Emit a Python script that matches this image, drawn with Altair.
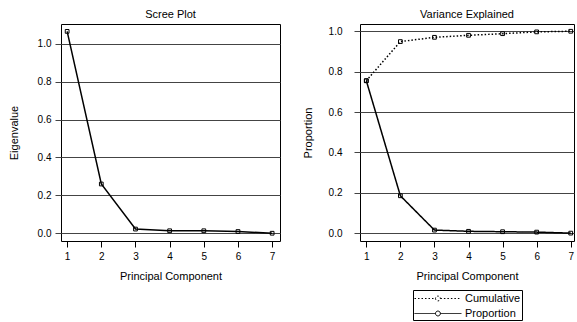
import altair as alt
import pandas as pd

FONT = "Liberation Sans"

components = [1, 2, 3, 4, 5, 6, 7]
eigenvalues = [1.066, 0.26, 0.022, 0.013, 0.013, 0.009, 0.0]
proportion = [0.755, 0.185, 0.015, 0.009, 0.007, 0.005, 0.0]
cumulative = [0.755, 0.949, 0.970, 0.980, 0.988, 0.997, 1.0]
y_ticks = [0.0, 0.2, 0.4, 0.6, 0.8, 1.0]

scree_df = pd.DataFrame({"Component": components, "Eigenvalue": eigenvalues})
ve_df = pd.DataFrame({
    "Component": components + components,
    "Value": proportion + cumulative,
    "Series": ["Proportion"] * 7 + ["Cumulative"] * 7,
})


def x_enc(dom):
    return alt.X(
        "Component:Q",
        scale=alt.Scale(domain=dom, nice=False, zero=False),
        axis=alt.Axis(values=components, title="Principal Component", grid=False,
                      tickSize=6, tickColor="black", labelPadding=4, titlePadding=9,
                      domain=False, labelFontSize=10, titleFontSize=11,
                      titleFontWeight="normal", labelFont=FONT, titleFont=FONT,
                      labelColor="black", titleColor="black"),
    )


def y_axis(title, label_pad, title_pad):
    return alt.Axis(values=y_ticks, format=".1f", title=title, grid=True,
                    gridColor="#444", gridWidth=1, tickSize=6, tickColor="#444",
                    domain=False, labelPadding=label_pad, titlePadding=title_pad,
                    labelFontSize=10, titleFontSize=11, titleFontWeight="normal",
                    labelFont=FONT, titleFont=FONT, labelColor="black",
                    titleColor="black")


title_kw = dict(fontSize=11, font=FONT, fontWeight="normal", offset=4, color="black")

# Scree plot
sbase = alt.Chart(scree_df).encode(
    x=x_enc([0.82, 7.23]),
    y=alt.Y("Eigenvalue:Q", scale=alt.Scale(domain=[-0.041, 1.105], nice=False, zero=False),
            axis=y_axis("Eigenvalue", 4, 18)),
)
left = (
    sbase.mark_line(color="black", strokeWidth=1.5)
    + sbase.mark_point(shape="square", filled=False, color="black", size=14, strokeWidth=1, opacity=1)
).properties(width=219, height=217, title=alt.TitleParams("Scree Plot", **title_kw))

# Variance explained
legend_symbol = ("M-1,0L2,0M2.7,0L5.7,0"
                 "M2,0A0.35,0.35 0 1,0 2.7,0A0.35,0.35 0 1,0 2,0")
vbase = alt.Chart(ve_df).encode(
    x=x_enc([0.815, 7.096]),
    y=alt.Y("Value:Q", scale=alt.Scale(domain=[-0.039, 1.036], nice=False, zero=False),
            axis=y_axis("Proportion", 12, 15)),
)
vline = vbase.mark_line(color="black", strokeWidth=1.5).encode(
    strokeDash=alt.StrokeDash(
        "Series:N",
        scale=alt.Scale(domain=["Cumulative", "Proportion"], range=[[1.5, 2], [1, 0]]),
        legend=alt.Legend(title=None, orient="none", legendX=352, legendY=266,
                          symbolType=legend_symbol, symbolSize=196,
                          symbolStrokeColor="black", symbolStrokeWidth=1,
                          symbolFillColor="transparent",
                          labelFont=FONT, labelFontSize=11, labelColor="black",
                          labelOffset=36, strokeColor="black", fillColor="white",
                          padding=1, rowPadding=2),
    )
)
vpts = vbase.mark_point(shape="square", filled=False, color="black", size=14,
                        strokeWidth=1, opacity=1).encode(detail="Series:N")
right = (vline + vpts).properties(width=214, height=217,
                                  title=alt.TitleParams("Variance Explained", **title_kw))

chart = alt.hconcat(left, right, spacing=20).properties(
    padding={"left": 7, "top": 8, "right": 0, "bottom": 0},
    background="white",
).configure_view(stroke="black", strokeWidth=1).configure_legend(
    strokeColor="black", strokeWidth=1
)

chart.save("out.html", embed_options={"renderer": "svg", "actions": False})
